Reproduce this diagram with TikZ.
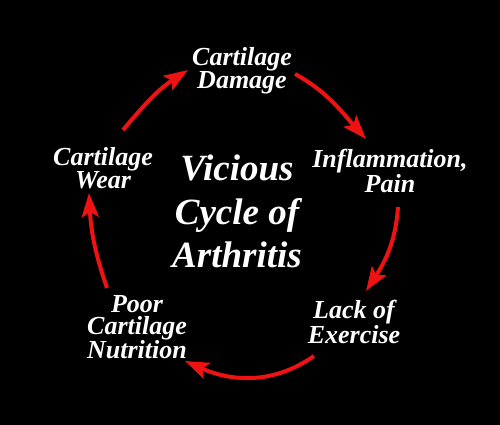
\documentclass[tikz,border=0pt]{standalone}
\usepackage{fontspec}
\setmainfont{Liberation Serif}
\usetikzlibrary{arrows.meta,calc}
\definecolor{arrred}{RGB}{238,18,18}
\begin{document}
\begin{tikzpicture}[x=1pt,y=1pt,
  lbl/.style={text=white,align=center,inner sep=0pt,anchor=north,
    font=\fontsize{26}{22}\selectfont\bfseries\itshape},
  ttl/.style={text=white,align=center,inner sep=0pt,anchor=north,
    font=\fontsize{37}{43.5}\selectfont\bfseries\itshape},
  arr/.style={draw=arrred,line width=4pt,
    -{Stealth[length=24pt,width=17pt,inset=5pt,fill=arrred]}}]
\fill[black] (0,0) rectangle (500,425);
\useasboundingbox (0,0) rectangle (500,425);
\node[lbl] (damage) at (242,377.8) {Cartilage\\Damage};
\node[lbl] (inflam) at (390,275.8) {Inflammation,\\Pain};
\node[lbl] (lack) at (354,124.8) {Lack of\\Exercise};
\node[lbl] (poor) at (137,129.8) {Poor\\Cartilage\\Nutrition};
\node[lbl] (wear) at (103,277.8) {Cartilage\\Wear};
\node[ttl] (title) at (237,270.3) {Vicious\\Cycle of\\Arthritis};
\draw[arr] ([shift={(53,-26.8)}]damage.north) to[out=-29,in=132] ([shift={(-24,10.2)}]inflam.north);
\draw[arr] ([shift={(8,-57.8)}]inflam.north) to[out=-94,in=57] ([shift={(12,9.2)}]lack.north);
\draw[arr] ([shift={(-40,-55.8)}]lack.north) to[out=215,in=-24] ([shift={(48,-65.8)}]poor.north);
\draw[arr] ([shift={(-30,7.2)}]poor.north) to[out=109,in=-87] ([shift={(-14,-45.8)}]wear.north);
\draw[arr] ([shift={(20,17.2)}]wear.north) to[out=50,in=213] ([shift={(-54,-22.8)}]damage.north);
\end{tikzpicture}
\end{document}
